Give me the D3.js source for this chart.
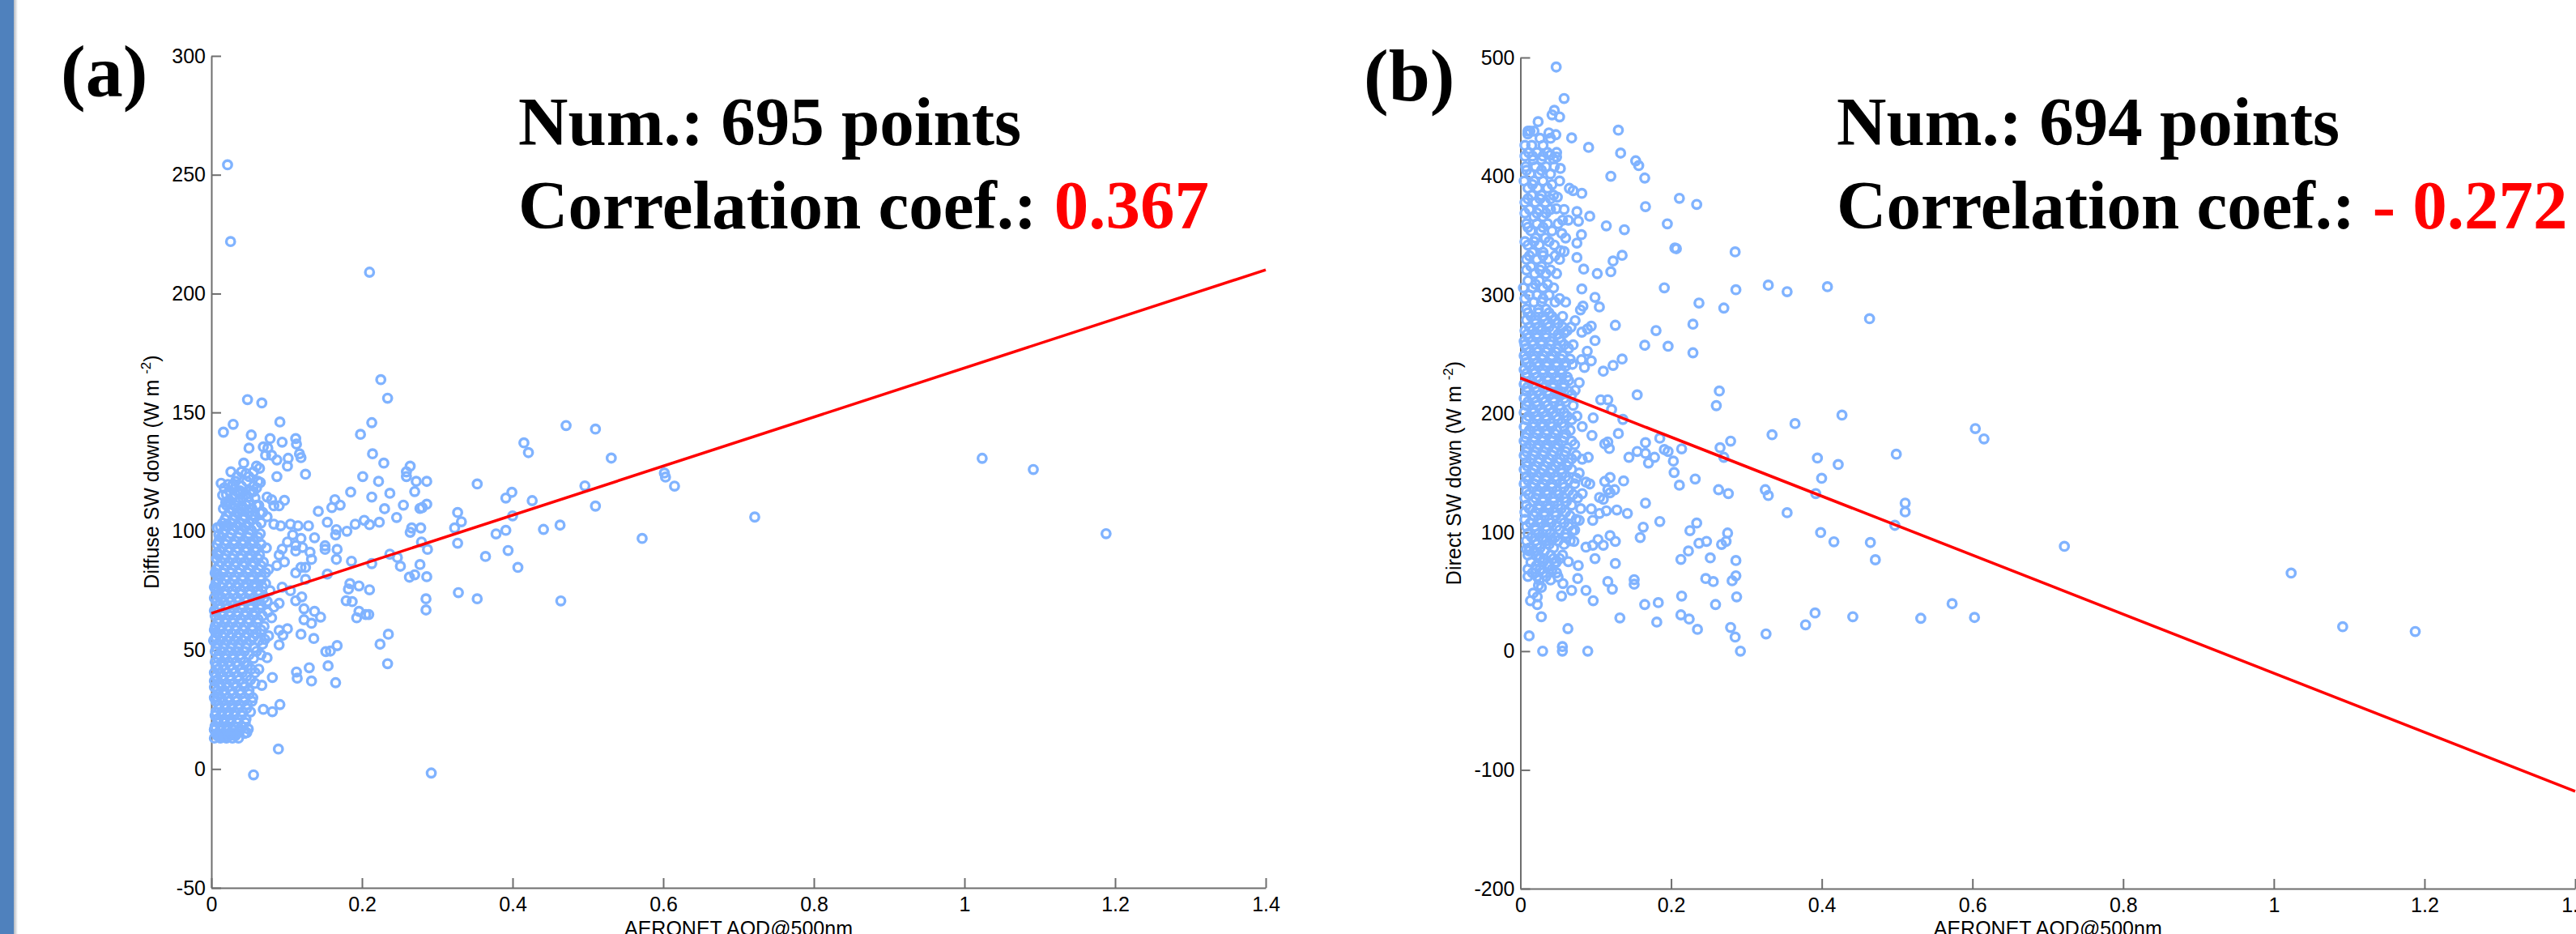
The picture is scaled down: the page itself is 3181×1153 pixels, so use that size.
<!DOCTYPE html>
<html>
<head>
<meta charset="utf-8">
<script src="https://cdn.jsdelivr.net/npm/d3@7"></script>
<style>
  body { margin: 0; background: #fff; }
  svg { display: block; }
</style>
</head>
<body>
<svg id="fig" width="3181" height="1153"></svg>
<script>
// ---- data ----
const xTicks = [0, 0.2, 0.4, 0.6, 0.8, 1, 1.2, 1.4];
const yTicksA = [-50, 0, 50, 100, 150, 200, 250, 300];
const yTicksB = [-200, -100, 0, 100, 200, 300, 400, 500];

// (a) diffuse SW down vs AOD: scattered points [aod, W m-2]
const pointsA = [
  [0.0215,254.2],[0.0255,221.9],[0.210,209],[0.225,163.8],[0.234,156],[0.048,155.4],[0.067,154],[0.091,146],
  [0.029,145],[0.016,141.7],[0.213,145.7],[0.198,140.8],[0.053,140.5],[0.078,139],[0.112,139],[0.094,137.5],
  [0.050,135],[0.069,135.5],[0.075,135],[0.113,136.7],[0.117,132.6],[0.119,131],[0.214,132.6],[0.229,128.7],
  [0.043,128.7],[0.060,127.4],[0.064,126.5],[0.101,127.4],[0.102,130.7],[0.072,132],[0.080,132],[0.087,130],
  [0.046,124.3],[0.026,125],[0.125,124],[0.087,123],[0.065,120.5],[0.201,123],[0.222,121],[0.259,123],
  [0.264,127.4],[0.259,125],[0.272,121],[0.286,121],[0.270,116.7],[0.237,116],[0.213,114.4],[0.185,116.5],
  [0.164,113.3],[0.171,111],[0.160,110],[0.142,108.4],[0.255,111],[0.246,105.8],[0.230,109.5],[0.277,109.6],
  [0.286,111.4],[0.280,110],[0.266,101.4],[0.278,101.4],[0.264,99.6],[0.223,103.8],[0.210,102.8],[0.203,104.6],
  [0.191,103],[0.180,100],[0.166,100.7],[0.154,103.8],[0.165,98.5],[0.137,97.3],[0.129,102.3],[0.151,93.9],
  [0.151,92.4],[0.167,92.4],[0.166,88.2],[0.186,87.4],[0.213,86.4],[0.237,90.4],[0.251,85.3],[0.247,89],
  [0.277,86],[0.279,95.5],[0.287,92.4],[0.263,80.7],[0.270,81.7],[0.286,80.9],[0.327,107.9],[0.332,104],
  [0.323,101.4],[0.327,95],[0.328,74.2],[0.285,71.6],[0.285,66.9],[0.184,78],[0.182,75.7],[0.196,77],
  [0.210,75.4],[0.179,70.8],[0.193,63.6],[0.196,66.3],[0.205,65],[0.209,65],[0.154,82],[0.133,88.2],
  [0.131,91.2],[0.125,84.8],[0.119,84.8],[0.112,82.5],[0.125,79.8],[0.120,72.4],[0.123,67.4],[0.123,62.8],
  [0.133,61.3],[0.137,66.3],[0.145,63.9],[0.119,56.7],[0.136,54.9],[0.101,59],[0.090,58.3],[0.095,56.3],
  [0.090,52.2],[0.074,46.8],[0.081,38.5],[0.067,35.2],[0.091,27.1],[0.069,25.1],[0.081,24.1],[0.049,16.8],
  [0.047,15.3],[0.089,8.4],[0.056,-2.5],[0.292,-1.7],[0.152,49.4],[0.158,49.6],[0.167,51.9],[0.155,43.4],
  [0.165,36.3],[0.113,40.8],[0.114,38.2],[0.130,42.6],[0.133,37],[0.224,52.5],[0.235,56.7],[0.234,44.3],
  [0.187,70.4],[0.112,70.8],[0.105,75],[0.094,76.5],[0.090,69.7],[0.083,68.1],[0.080,63.6],[0.076,56],
  [0.071,54.5],[0.013,120.2],[0.017,118.2],[0.022,119.7],[0.029,119.7],[0.035,116.4],[0.015,115.2],[0.019,112.2],
  [0.026,111.4],[0.040,110.7],[0.049,114.4],[0.056,116.7],[0.060,118.2],[0.063,110.9],[0.074,114.4],[0.080,113.3],
  [0.083,110.7],[0.090,110.7],[0.097,113],[0.035,107.6],[0.044,106.1],[0.054,106.8],[0.065,107.6],[0.074,106.1],
  [0.083,103],[0.092,102.3],[0.105,103],[0.115,102.3],[0.108,98.5],[0.119,97],[0.112,94],[0.101,95.5],
  [0.094,92.5],[0.090,90],[0.097,87.1],[0.087,85.6],[0.112,91.7],[0.121,93.2],[0.008,101.5],[0.019,102.3],
  [0.010,98.5],[0.008,91],[0.008,81.8],[0.006,75.7],[0.010,72.7],[0.004,66.6],[0.006,57.5],[0.004,54.4],
  [0.004,37],[0.008,30.2],[0.008,21],[0.004,16.5],[0.008,14.2],[0.013,13.4],[0.019,13.4],[0.024,14.2],
  [0.029,15],[0.037,15.7],[0.353,119.9],[0.399,116.4],[0.391,114],[0.426,112.9],[0.496,119.1],[0.510,110.6],
  [0.400,106.5],[0.378,98.9],[0.391,100.4],[0.441,100.8],[0.463,102.6],[0.572,97],[0.364,89.4],[0.394,91.9],
  [0.407,84.8],[0.353,71.6],[0.464,70.7],[0.471,144.5],[0.510,143],[0.415,137.2],[0.421,133.1],[0.531,130.8],
  [0.6015,124.5],[0.603,122.8],[0.615,119],[0.7215,106],[1.0235,130.7],[1.0914,126],[1.188,99]
];

// (a) dense cluster at low AOD, one row per W m-2 level: [value, [aod, ...]]
const coreA = [
  [13,[0.004,0.012,0.020,0.028,0.036]],[15,[0.008,0.016,0.024,0.032,0.044]],
  [18,[0.005,0.013,0.021,0.030,0.040]],[21,[0.009,0.017,0.026,0.035,0.046]],
  [24,[0.006,0.014,0.023,0.031,0.041,0.052]],[27,[0.010,0.019,0.028,0.037,0.048]],
  [30,[0.004,0.013,0.022,0.033,0.044,0.055]],[33,[0.008,0.017,0.026,0.038,0.050]],
  [36,[0.011,0.020,0.030,0.042,0.058]],[39,[0.006,0.015,0.025,0.035,0.047]],
  [42,[0.009,0.018,0.028,0.040,0.053,0.063]],[45,[0.005,0.014,0.023,0.033,0.044]],
  [48,[0.010,0.019,0.029,0.038,0.050,0.066]],[51,[0.007,0.016,0.026,0.036,0.046,0.057]],
  [54,[0.003,0.012,0.021,0.031,0.041,0.052,0.063]],[57,[0.008,0.017,0.027,0.037,0.048,0.060]],
  [60,[0.005,0.014,0.023,0.033,0.044,0.055,0.070]],[63,[0.010,0.019,0.029,0.039,0.050,0.062]],
  [66,[0.006,0.015,0.025,0.035,0.046,0.058,0.075]],[69,[0.011,0.020,0.030,0.041,0.053,0.066]],
  [72,[0.004,0.014,0.024,0.034,0.045,0.057,0.070]],[75,[0.009,0.018,0.028,0.039,0.050,0.062,0.078]],
  [78,[0.006,0.015,0.025,0.036,0.047,0.059,0.072]],[81,[0.011,0.021,0.031,0.042,0.054,0.066]],
  [84,[0.007,0.017,0.027,0.038,0.050,0.063,0.076]],[87,[0.013,0.023,0.033,0.044,0.056,0.069]],
  [90,[0.009,0.019,0.029,0.040,0.052,0.064]],[93,[0.014,0.024,0.035,0.047,0.060,0.073]],
  [96,[0.010,0.020,0.031,0.043,0.056]],[99,[0.016,0.026,0.037,0.050,0.065]],
  [102,[0.012,0.022,0.033,0.046,0.060]],[105,[0.018,0.030,0.042,0.055]],
  [108,[0.024,0.037,0.050,0.068]],[111,[0.020,0.032,0.046,0.060]],
  [114,[0.028,0.042,0.058]],[117,[0.024,0.038,0.052]],[121,[0.032,0.047,0.062]],[125,[0.040,0.056]]
];

// (a) further points inside the same cluster, between the rows above
const coreA2 = [
  [14,[0.008,0.016,0.024,0.032]],[16.5,[0.004,0.012,0.020,0.028,0.038]],
  [19.5,[0.009,0.017,0.025,0.035,0.045]],[22.5,[0.005,0.013,0.022,0.030,0.040]],
  [25.5,[0.010,0.018,0.027,0.036,0.047]],[28.5,[0.006,0.015,0.024,0.033,0.043,0.054]],
  [31.5,[0.009,0.018,0.028,0.039,0.050]],[34.5,[0.004,0.013,0.022,0.033,0.044]],
  [37.5,[0.008,0.016,0.025,0.037,0.052]],[40.5,[0.004,0.012,0.021,0.031,0.041,0.058]],
  [43.5,[0.007,0.016,0.025,0.035,0.048]],[46.5,[0.009,0.018,0.028,0.039,0.056]],
  [49.5,[0.005,0.014,0.024,0.034,0.044,0.060]],[52.5,[0.008,0.017,0.027,0.036,0.047,0.068]],
  [55.5,[0.006,0.015,0.025,0.034,0.045,0.056]],[58.5,[0.004,0.012,0.022,0.032,0.042,0.054,0.066]],
  [61.5,[0.009,0.018,0.028,0.038,0.049,0.061]],[64.5,[0.005,0.014,0.024,0.034,0.044,0.056,0.068]],
  [67.5,[0.010,0.020,0.030,0.040,0.052,0.064]],[70.5,[0.007,0.016,0.026,0.036,0.047,0.060,0.074]],
  [73.5,[0.009,0.019,0.029,0.040,0.051,0.064]],[76.5,[0.004,0.013,0.023,0.033,0.044,0.056,0.068]],
  [79.5,[0.009,0.019,0.030,0.041,0.053,0.066]],[82.5,[0.005,0.016,0.026,0.036,0.048,0.060,0.072]],
  [85.5,[0.010,0.020,0.031,0.042,0.054,0.066]],[88.5,[0.007,0.018,0.028,0.039,0.050,0.062]],
  [91.5,[0.012,0.022,0.033,0.045,0.058]],[94.5,[0.008,0.019,0.030,0.041,0.053,0.066]],
  [97.5,[0.013,0.024,0.036,0.049,0.062]],[100.5,[0.017,0.028,0.040,0.053]],
  [103.5,[0.015,0.026,0.038,0.050,0.066]],[106.5,[0.020,0.031,0.044,0.058]],
  [109.5,[0.016,0.028,0.040,0.054]],[112.5,[0.023,0.036,0.050]],
  [115.5,[0.020,0.032,0.046]],[119,[0.027,0.040,0.056]],[123,[0.034,0.050]]
];

// (b) direct SW down vs AOD: scattered points [aod, W m-2]
const pointsB = [
  [0.0475,492],[0.058,465.5],[0.045,455.5],[0.042,451.7],[0.052,450],[0.0235,446],[0.0127,438],[0.0099,435.6],
  [0.0378,436.5],[0.047,435],[0.068,432.3],[0.130,438.8],[0.0905,424.3],[0.133,419.5],[0.153,413],[0.157,409],
  [0.165,398.5],[0.120,400],[0.211,381.4],[0.234,376.3],[0.166,374.4],[0.195,359.9],[0.114,358.2],[0.138,355],
  [0.207,339],[0.285,336.3],[0.205,339.6],[0.135,333.4],[0.123,328.6],[0.120,319.6],[0.102,318],[0.084,321.8],
  [0.191,306],[0.286,304.4],[0.329,308.3],[0.237,293.2],[0.270,289],[0.229,275.4],[0.180,270],[0.126,274.5],
  [0.165,257.7],[0.196,256.8],[0.229,251.3],[0.135,246.1],[0.123,240.7],[0.110,235.8],[0.155,215.9],[0.264,219.1],
  [0.260,206.8],[0.334,182.3],[0.279,176.9],[0.265,171.4],[0.270,163.3],[0.166,175.6],[0.185,179.4],[0.214,170.4],
  [0.191,169.8],[0.196,168.2],[0.203,160.1],[0.155,168.2],[0.144,163.3],[0.166,166.6],[0.178,163.3],[0.170,158.5],
  [0.204,150.5],[0.211,139.8],[0.232,145],[0.263,136],[0.276,132.7],[0.325,136],[0.329,131.1],[0.166,124.7],
  [0.137,143.4],[0.185,109.2],[0.163,104.4],[0.159,95.7],[0.225,101.5],[0.234,107.9],[0.275,99.5],[0.267,89.9],
  [0.273,92.5],[0.237,90.9],[0.247,92.5],[0.223,84.4],[0.213,77.3],[0.252,78.6],[0.286,76.4],[0.246,61.2],
  [0.256,58.6],[0.286,63.5],[0.281,59.3],[0.287,45.7],[0.214,46.4],[0.259,39.3],[0.151,60.2],[0.151,56.4],
  [0.116,58.6],[0.122,52.2],[0.165,39.3],[0.183,40.9],[0.132,28],[0.181,24.5],[0.213,30.6],[0.224,27.1],
  [0.235,18.4],[0.279,20],[0.285,11.9],[0.292,0],[0.326,14.5],[0.063,19],[0.0295,0],[0.0557,3.9],
  [0.0557,0],[0.0894,0],[0.0116,12.9],[0.0278,29],[0.0134,42.5],[0.0224,39.3],[0.0224,45.7],[0.017,48.9],
  [0.024,55.4],[0.0278,53.8],[0.0546,46.4],[0.068,51.2],[0.087,51.2],[0.0966,42.5],[0.076,61.2],[0.0564,57],
  [0.050,62.5],[0.126,73.8],[0.099,78],[0.096,89.2],[0.0768,72.2],[0.0636,75.4],[0.0475,74.7],[0.0385,71.5],
  [0.0314,78],[0.0206,69],[0.0116,84.4],[0.008,86],[0.110,89.2],[0.126,92.5],[0.119,97.3],[0.103,94],
  [0.087,87.6],[0.071,92.5],[0.060,95.7],[0.042,94],[0.030,94],[0.069,101.2],[0.142,116],[0.128,118.9],
  [0.114,118.2],[0.105,116],[0.096,110.2],[0.078,110.2],[0.110,127.9],[0.119,133.4],[0.116,136],[0.112,143],
  [0.119,146.3],[0.125,136],[0.105,129.5],[0.094,119.8],[0.092,140.8],[0.082,132.7],[0.087,142.4],[0.074,145.6],
  [0.082,161.7],[0.090,163.3],[0.095,181.7],[0.082,189.1],[0.0966,196.5],[0.136,195.2],[0.118,170.7],[0.116,176.2],
  [0.130,183.3],[0.112,174.6],[0.1066,211.7],[0.116,211.7],[0.121,203.6],[0.078,226.2],[0.0726,219.7],[0.081,245.5],
  [0.094,244.5],[0.085,239],[0.069,241.6],[0.0887,252.6],[0.099,261.6],[0.094,273.8],[0.089,271.3],[0.0815,268.7],
  [0.0726,278.4],[0.0672,272.9],[0.058,268],[0.0815,305.1],[0.0797,287.4],[0.083,290.6],[0.099,298],[0.1048,289.9],
  [0.075,331.5],[0.075,343.7],[0.075,370.2],[0.077,362.1],[0.092,366.3],[0.081,350.8],[0.0636,363],[0.056,363],
  [0.055,351.8],[0.065,389.8],[0.070,387.9],[0.0815,385.6],[0.058,336.6],[0.053,337.3],[0.049,382.4],[0.0475,372.7],
  [0.053,406.6],[0.044,414.6],[0.048,416.2],[0.040,417.8],
  [0.354,302.8],[0.4075,307],[0.4634,280],[0.3645,191.7],[0.4268,198.8],[0.3942,162.7],[0.4218,157.2],[0.3998,145.6],
  [0.392,132.7],[0.354,116.6],[0.4989,165.9],[0.6038,187.5],[0.6153,178.8],[0.5107,124.7],[0.5107,117.3],[0.497,106],
  [0.3985,99.9],[0.4161,92.1],[0.4645,91.5],[0.4711,77],[0.722,88.3],[0.3911,32.2],[0.3785,22.2],[0.4412,29],
  [0.5314,27.7],[0.573,40],[0.6027,28.4],[1.023,65.8],[1.0914,20.6],[1.1877,16.6]
];

// (b) dense cluster at low AOD, one row per W m-2 level: [value, [aod, ...]]
const coreB = [
  [438,[0.010,0.018]],[432,[0.026,0.040]],[426,[0.006,0.015,0.030]],[420,[0.011,0.022,0.036,0.048]],
  [414,[0.017,0.028]],[408,[0.007,0.020,0.034,0.045]],[402,[0.013,0.025,0.040]],[396,[0.005,0.018,0.030,0.052]],
  [390,[0.010,0.023,0.036]],[384,[0.015,0.028,0.044]],[378,[0.006,0.020,0.033]],[372,[0.012,0.025,0.040,0.058]],
  [366,[0.018,0.030]],[360,[0.008,0.022,0.036,0.050]],[354,[0.014,0.027,0.042]],[348,[0.020,0.033,0.060]],
  [342,[0.010,0.025,0.045]],[336,[0.016,0.030]],[330,[0.008,0.022,0.037,0.052]],[324,[0.014,0.028]],
  [318,[0.019,0.034,0.048]],[312,[0.010,0.025]],[306,[0.004,0.016,0.030,0.044]],[300,[0.012,0.022,0.038]],
  [294,[0.018,0.028,0.046,0.060]],[288,[0.008,0.024,0.034]],[282,[0.014,0.030,0.042,0.056]],[276,[0.020,0.036,0.050]],
  [270,[0.006,0.016,0.028,0.044,0.062]],[264,[0.011,0.022,0.034,0.052]],[258,[0.006,0.017,0.028,0.040,0.058,0.070]],
  [252,[0.012,0.023,0.034,0.047]],[246,[0.007,0.018,0.029,0.041,0.054,0.066]],[240,[0.013,0.024,0.035,0.048,0.060]],
  [234,[0.008,0.019,0.030,0.042,0.055]],[228,[0.014,0.025,0.037,0.050,0.064]],[222,[0.009,0.020,0.031,0.043,0.057]],
  [216,[0.015,0.026,0.038,0.051,0.068]],[210,[0.010,0.021,0.033,0.045,0.060]],[204,[0.016,0.027,0.039,0.053]],
  [198,[0.011,0.022,0.034,0.047,0.062,0.075]],[192,[0.017,0.028,0.040,0.055]],[186,[0.012,0.023,0.035,0.048,0.066]],
  [180,[0.007,0.018,0.029,0.042,0.058]],[174,[0.013,0.024,0.036,0.050,0.072]],[168,[0.008,0.019,0.031,0.044,0.060]],
  [162,[0.014,0.025,0.038,0.053,0.068]],[156,[0.009,0.020,0.032,0.046,0.062]],[150,[0.015,0.027,0.040,0.055,0.078]],
  [144,[0.010,0.021,0.034,0.048,0.064]],[138,[0.016,0.028,0.042,0.058]],[132,[0.011,0.023,0.036,0.051,0.070]],
  [126,[0.017,0.030,0.044,0.061]],[120,[0.012,0.025,0.038,0.054,0.080]],[114,[0.018,0.032,0.047,0.066]],
  [108,[0.013,0.027,0.041,0.058]],[102,[0.020,0.035,0.052,0.072]],[96,[0.015,0.029,0.046]],
  [90,[0.022,0.038,0.058]],[84,[0.018,0.032]],[78,[0.026,0.044,0.052]],[72,[0.021,0.036]],
  [66,[0.016,0.030,0.048]],[60,[0.025,0.040]]
];

// (b) further points inside the same cluster, between the rows above
const coreB2 = [
  [63,[0.010,0.022,0.034]],[69,[0.010,0.026,0.042]],[75,[0.014,0.030,0.046]],[81,[0.010,0.024,0.040,0.056]],
  [87,[0.012,0.026,0.044]],[93,[0.008,0.020,0.034,0.050,0.066]],[99,[0.010,0.024,0.040,0.060]],
  [105,[0.008,0.020,0.034,0.048,0.064]],[111,[0.006,0.024,0.038,0.054,0.074]],[117,[0.006,0.020,0.032,0.046,0.060]],
  [123,[0.008,0.024,0.036,0.050,0.068]],[129,[0.006,0.020,0.030,0.044,0.058,0.076]],[135,[0.008,0.022,0.034,0.048,0.064]],
  [141,[0.005,0.018,0.030,0.042,0.056,0.072]],[147,[0.008,0.022,0.034,0.046,0.060]],[153,[0.005,0.018,0.030,0.042,0.054,0.068]],
  [159,[0.008,0.024,0.036,0.050,0.064]],[165,[0.005,0.018,0.030,0.042,0.058,0.074]],[171,[0.008,0.022,0.034,0.047,0.062]],
  [177,[0.005,0.018,0.030,0.043,0.056,0.068]],[183,[0.008,0.022,0.034,0.046,0.060]],[189,[0.005,0.018,0.030,0.042,0.058]],
  [195,[0.008,0.022,0.034,0.050,0.068]],[201,[0.005,0.018,0.030,0.043,0.058]],[207,[0.008,0.022,0.036,0.052,0.070]],
  [213,[0.005,0.018,0.030,0.044,0.058]],[219,[0.008,0.022,0.036,0.050,0.064]],[225,[0.005,0.018,0.030,0.044,0.058]],
  [231,[0.008,0.022,0.036,0.048,0.062]],[237,[0.005,0.018,0.030,0.042,0.054]],[243,[0.008,0.022,0.035,0.048,0.060]],
  [249,[0.005,0.018,0.030,0.042,0.056]],[255,[0.008,0.022,0.036,0.050,0.064]],[261,[0.005,0.016,0.028,0.040,0.054]],
  [267,[0.009,0.022,0.034,0.050]],[273,[0.012,0.024,0.038,0.056]],[279,[0.008,0.020,0.032,0.046]],
  [285,[0.010,0.024,0.038]],[297,[0.006,0.030,0.052]],[309,[0.020,0.036]],[321,[0.008,0.026,0.040]],
  [333,[0.012,0.030,0.046]],[345,[0.006,0.018,0.038]],[357,[0.010,0.030]],[369,[0.006,0.022,0.034]],
  [381,[0.010,0.026,0.040]],[393,[0.016,0.042]],[405,[0.008,0.028]],[417,[0.006,0.016,0.030]]
];

// least squares lines, endpoints at AOD 0 and 1.4
const fitA = [[0, 65.5], [1.4, 210]];
const fitB = [[0, 230], [1.4, -118]];

const numA = "695", coefA = "0.367";
const numB = "694", coefB = "- 0.272";

// ---- drawing ----
const svg = d3.select("#fig");
const H = 1153;
const sans = "'Liberation Sans', Arial, Helvetica, sans-serif";
const serif = "'Liberation Serif', 'Times New Roman', serif";
const axisGray = "#6e6e6e";

// blue side bar on the left edge
const defs = svg.append("defs");
const grad = defs.append("linearGradient").attr("id", "shade");
grad.append("stop").attr("offset", "0%").attr("stop-color", "#b4b8bf");
grad.append("stop").attr("offset", "100%").attr("stop-color", "#ffffff");
svg.append("rect").attr("x", 0).attr("y", 0).attr("width", 17).attr("height", H).attr("fill", "#4f81bd");
svg.append("rect").attr("x", 17).attr("y", 0).attr("width", 5).attr("height", H).attr("fill", "url(#shade)");

function flatten(core) {
  const out = [];
  core.forEach(([v, xs]) => xs.forEach(a => out.push([a, v])));
  return out;
}

function drawPanel(p) {
  const x = d3.scaleLinear().domain([0, 1.4]).range([p.left, p.right]);
  const y = d3.scaleLinear().domain(p.yDomain).range([p.bottom, p.top]);
  const fmt = d => String(d);

  const gx = svg.append("g")
    .attr("transform", `translate(0,${p.bottom})`)
    .call(d3.axisBottom(x).tickValues(xTicks).tickFormat(fmt)
      .tickSizeInner(-12).tickSizeOuter(0).tickPadding(11));
  const gy = svg.append("g")
    .attr("transform", `translate(${p.left},0)`)
    .call(d3.axisLeft(y).tickValues(p.yTicks).tickFormat(fmt)
      .tickSizeInner(-12).tickSizeOuter(0).tickPadding(7));

  [gx, gy].forEach(g => {
    g.attr("font-family", sans).attr("font-size", 25);
    g.select(".domain").attr("stroke", axisGray).attr("stroke-width", 2);
    g.selectAll(".tick line").attr("stroke", axisGray).attr("stroke-width", 2);
    g.selectAll(".tick text").attr("fill", "#000");
  });

  // scatter
  const pts = p.points.concat(flatten(p.core), flatten(p.core2));
  svg.append("g").selectAll("circle")
    .data(pts)
    .join("circle")
      .attr("cx", d => x(d[0]))
      .attr("cy", d => y(d[1]))
      .attr("r", 5.2)
      .attr("fill", "none")
      .attr("stroke", "#80b3ff")
      .attr("stroke-width", 3.4);

  // regression line
  svg.append("path")
    .datum(p.fit)
    .attr("fill", "none")
    .attr("stroke", "#ff0000")
    .attr("stroke-width", 3.5)
    .attr("d", d3.line().x(d => x(d[0])).y(d => y(d[1])));

  // axis labels
  const yl = svg.append("text")
    .attr("transform", `translate(${p.ylabelX},${(p.top + p.bottom) / 2}) rotate(-90)`)
    .attr("text-anchor", "middle")
    .attr("font-family", sans).attr("font-size", 25).attr("fill", "#000");
  yl.append("tspan").text(p.ylabel + " (W m ");
  yl.append("tspan").attr("font-size", 17).attr("dy", -10).text("-2");
  yl.append("tspan").attr("dy", 10).text(")");

  svg.append("text")
    .attr("x", (p.left + p.right) / 2).attr("y", 1155)
    .attr("text-anchor", "middle")
    .attr("font-family", sans).attr("font-size", 25).attr("fill", "#000")
    .text("AERONET AOD@500nm");

  // panel letter and stats
  svg.append("text")
    .attr("x", p.letterX).attr("y", p.letterY)
    .attr("font-family", serif).attr("font-weight", "bold").attr("font-size", 92)
    .text(p.letter);

  svg.append("text")
    .attr("x", p.textX).attr("y", 179)
    .attr("font-family", serif).attr("font-weight", "bold").attr("font-size", 85)
    .text(`Num.: ${p.num} points`);

  const c = svg.append("text")
    .attr("x", p.textX).attr("y", 282)
    .attr("font-family", serif).attr("font-weight", "bold").attr("font-size", 85)
    .style("white-space", "pre");
  c.append("tspan").text("Correlation coef.: ");
  c.append("tspan").attr("fill", "#ff0000").text(p.coef);
}

drawPanel({
  left: 261, right: 1563, top: 69, bottom: 1096,
  yDomain: [-50, 300], yTicks: yTicksA,
  points: pointsA, core: coreA, core2: coreA2, fit: fitA,
  ylabel: "Diffuse SW down", ylabelX: 196,
  letter: "(a)", letterX: 75, letterY: 119,
  textX: 640, num: numA, coef: coefA
});

drawPanel({
  left: 1877.5, right: 3180, top: 71, bottom: 1097,
  yDomain: [-200, 500], yTicks: yTicksB,
  points: pointsB, core: coreB, core2: coreB2, fit: fitB,
  ylabel: "Direct SW down", ylabelX: 1804,
  letter: "(b)", letterX: 1684, letterY: 124,
  textX: 2268, num: numB, coef: coefB
});
</script>
</body>
</html>
